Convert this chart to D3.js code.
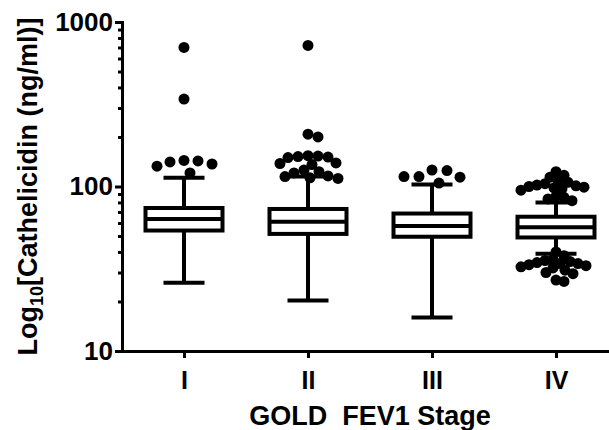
<!DOCTYPE html>
<html>
<head>
<meta charset="utf-8">
<script src="https://cdn.jsdelivr.net/npm/d3@7"></script>
<style>
  body { margin: 0; background: #fff; }
  text { font-family: "Liberation Sans", Arial, sans-serif; font-weight: bold; fill: #000; }
</style>
</head>
<body>
<script>
const width = 609, height = 430;

// data
const stages = ["I", "II", "III", "IV"];
const whiskerLow = [26, 20.3, 16, 39];
const q1 = [54, 51.5, 49.5, 49];
const median = [63.5, 61, 57.5, 56.5];
const q3 = [74, 73, 68.5, 65.5];
const whiskerHigh = [113, 115, 103, 80];
const outliersI = [700, 340, 144, 143, 141, 137, 133, 121];
const outliersII = [720, 208, 200, 154, 153, 152, 151, 150, 139, 138, 136, 126, 123, 121, 116, 115, 113, 112];
const outliersIII = [126, 125, 115, 115, 114, 105];
const outliersIV = [123, 117, 114, 108, 106, 104, 102, 101, 100, 99, 98, 97, 95, 87, 86, 84, 82,
                    40, 38, 36, 35.5, 35, 34.5, 34, 34, 33.5, 33, 32.5, 32, 31, 30, 29.5, 27, 26.5];
const outliers = [outliersI, outliersII, outliersIII, outliersIV];
const yTicks = [10, 100, 1000];
const yMinor = [20, 30, 40, 50, 60, 70, 80, 90, 200, 300, 400, 500, 600, 700, 800, 900];

const svg = d3.select("body").append("svg").attr("width", width).attr("height", height);

const x = d3.scalePoint().domain(stages).range([122, 618]).padding(0.5);
const y = d3.scaleLog().domain([10, 1000]).range([351, 22]);

const boxHalf = 38.5, capHalf = 20.5, lw = 4, r = 5.5, maxSpread = 37;

// axes
const yAxis = svg.append("g").attr("transform", "translate(122,0)")
  .call(d3.axisLeft(y).tickValues(yTicks).tickFormat(d3.format("d")).tickSize(7).tickSizeOuter(0).tickPadding(2));
svg.append("g").attr("transform", "translate(122,0)")
  .call(d3.axisLeft(y).tickValues(yMinor).tickFormat("").tickSize(4).tickSizeOuter(0))
  .call(g => g.select(".domain").remove());
const xAxis = svg.append("g").attr("transform", "translate(0,351)")
  .call(d3.axisBottom(x).tickSize(7).tickSizeOuter(0).tickPadding(13));

svg.selectAll(".domain").attr("stroke", "#000").attr("stroke-width", 3).attr("stroke-linecap", "square");
svg.selectAll(".tick line").attr("stroke", "#000").attr("stroke-width", 3);
yAxis.selectAll("text").attr("font-size", 26);
xAxis.selectAll("text").attr("font-size", 25);

// boxes
const groups = svg.append("g").selectAll("g").data(stages).join("g")
  .attr("transform", d => `translate(${x(d)},0)`);

groups.append("line").attr("y1", (d, i) => y(whiskerHigh[i])).attr("y2", (d, i) => y(q3[i]));
groups.append("line").attr("y1", (d, i) => y(q1[i])).attr("y2", (d, i) => y(whiskerLow[i]));
groups.append("line").attr("x1", -capHalf).attr("x2", capHalf)
  .attr("y1", (d, i) => y(whiskerHigh[i])).attr("y2", (d, i) => y(whiskerHigh[i]));
groups.append("line").attr("x1", -capHalf).attr("x2", capHalf)
  .attr("y1", (d, i) => y(whiskerLow[i])).attr("y2", (d, i) => y(whiskerLow[i]));
groups.append("rect").attr("x", -boxHalf).attr("width", boxHalf * 2)
  .attr("y", (d, i) => y(q3[i])).attr("height", (d, i) => y(q1[i]) - y(q3[i]))
  .attr("fill", "#fff");
groups.append("line").attr("x1", -boxHalf).attr("x2", boxHalf)
  .attr("y1", (d, i) => y(median[i])).attr("y2", (d, i) => y(median[i]));
groups.selectAll("line, rect").attr("stroke", "#000").attr("stroke-width", lw);

// spread outliers sideways like a column scatter, squeezing the spacing until they fit
function swarm(values) {
  const sorted = values.slice().sort((a, b) => b - a);
  const cands = [0];
  for (let k = 1; k <= maxSpread; k++) cands.push(k, -k);
  for (let gap = 18; gap > 4; gap -= 0.5) {
    const placed = [];
    let ok = true;
    for (const v of sorted) {
      const py = y(v);
      const dx = cands.find(c => placed.every(p => (p.dx - c) ** 2 + (p.py - py) ** 2 >= gap * gap));
      if (dx === undefined) { ok = false; break; }
      placed.push({ v, py, dx });
    }
    if (ok) return placed;
  }
  return sorted.map(v => ({ v, py: y(v), dx: 0 }));
}

groups.each(function(d, i) {
  d3.select(this).selectAll("circle").data(swarm(outliers[i])).join("circle")
    .attr("cx", p => p.dx).attr("cy", p => p.py).attr("r", r).attr("fill", "#000");
});

// axis titles
const yLabel = svg.append("text")
  .attr("transform", "rotate(-90)")
  .attr("x", -(y(10) + y(1000)) / 2).attr("y", 37)
  .attr("text-anchor", "middle").attr("font-size", 27);
yLabel.append("tspan").text("Log");
yLabel.append("tspan").attr("font-size", 18).attr("dy", 6).text("10");
yLabel.append("tspan").attr("dy", -6).text("[Cathelicidin (ng/ml)]");

svg.append("text")
  .attr("x", (x("I") + x("IV")) / 2).attr("y", 425)
  .attr("text-anchor", "middle").attr("font-size", 27)
  .style("white-space", "pre")
  .text("GOLD  FEV1 Stage");
</script>
</body>
</html>
